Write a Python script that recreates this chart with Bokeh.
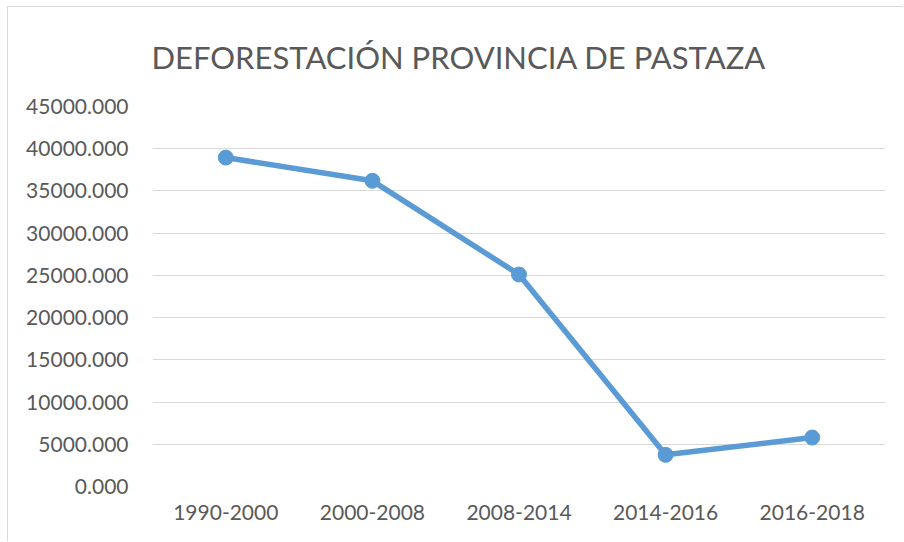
from bokeh.plotting import figure
from bokeh.models import FactorRange, Range1d, PrintfTickFormatter, FixedTicker, Title
from bokeh.embed import file_html
from bokeh.resources import INLINE

periods = ["1990-2000", "2000-2008", "2008-2014", "2014-2016", "2016-2018"]
deforestation = [38950, 36200, 25100, 3750, 5800]
y_ticks = [0, 5000, 10000, 15000, 20000, 25000, 30000, 35000, 40000, 45000]
title_text = "DEFORESTACIÓN PROVINCIA DE PASTAZA"

FONT = "Lato"
BLUE = "#5B9BD5"
GREY = "#595959"

p = figure(width=896, height=535, output_backend="svg", toolbar_location=None,
           x_range=FactorRange(factors=periods, range_padding=0),
           y_range=Range1d(0, 45000),
           min_border_left=144, min_border_right=19, min_border_bottom=56, min_border_top=99)
p.styles = {"margin-left": "7px", "margin-top": "6px",
            "border-left": "1px solid #d9d9d9", "border-top": "1px solid #d9d9d9"}

t = Title(text=title_text, align="left", offset=-1, vertical_align="top",
          text_font=FONT, text_font_size="31px", text_font_style="normal",
          text_color=GREY, standoff=57)
p.add_layout(t, "above")

p.line(periods, deforestation, line_color=BLUE, line_width=5.5)
p.scatter(periods, deforestation, size=15, fill_color=BLUE, line_color=BLUE)

p.outline_line_color = None
p.xgrid.grid_line_color = None
p.ygrid.grid_line_color = "#d9d9d9"
p.ygrid.grid_line_width = 1

p.yaxis.ticker = FixedTicker(ticks=y_ticks)
p.yaxis.formatter = PrintfTickFormatter(format="%.3f")
for ax in (p.xaxis[0], p.yaxis[0]):
    ax.axis_line_color = None
    ax.major_tick_line_color = None
    ax.minor_tick_line_color = None
    ax.major_tick_out = 0
    ax.major_tick_in = 0
    ax.minor_tick_out = 0
    ax.major_label_text_font = FONT
    ax.major_label_text_font_size = "21px"
    ax.major_label_text_color = GREY
p.yaxis.major_label_standoff = 24
p.xaxis.major_label_standoff = 18

open("out.html", "w").write(file_html(p, INLINE))
